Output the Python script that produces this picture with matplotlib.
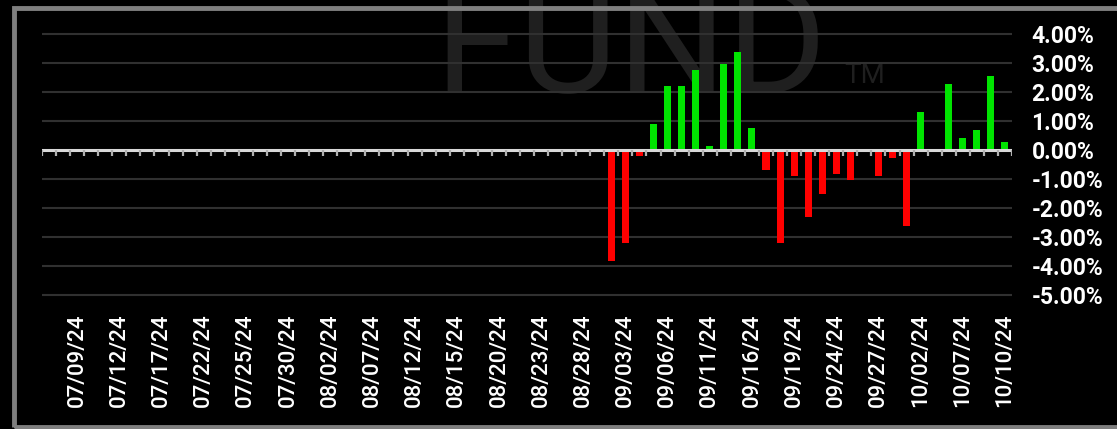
import numpy as np
import pandas as pd
import matplotlib
matplotlib.use('Agg')
from matplotlib import pyplot as plt
from matplotlib.patches import Rectangle

# trading days shown (Labor Day skipped)
dates = pd.bdate_range('2024-07-05', '2024-10-10', freq='C', holidays=['2024-09-02'])
date_labels = [d.strftime('%m/%d/%y') for d in dates]

# daily % change, flat until late August
changes = [0.0] * 40 + [
    -3.81, -3.21, -0.20, 0.88, 2.19, 2.19, 2.74, 0.14, 2.94, 3.36,
    0.76, -0.69, -3.21, -0.88, -2.32, -1.50, -0.82, -1.03, 0.0, -0.88,
    -0.26, -2.60, 1.31, 0.0, 2.27, 0.41, 0.69, 2.53, 0.27,
]
yticks = [4, 3, 2, 1, 0, -1, -2, -3, -4, -5]

plt.rcParams['font.family'] = ['Roboto', 'DejaVu Sans']

fig = plt.figure(figsize=(11.17, 4.29), dpi=100, facecolor='black')

# faint watermark behind the chart
fig.text(434 / 1117, 1 - 93 / 429, 'FUND', fontsize=110, fontweight='normal',
         color='#1f1f1f', ha='left', va='baseline', zorder=-5)
fig.text(844 / 1117, 1 - 83 / 429, 'TM', fontsize=20, color='#1f1f1f',
         ha='left', va='baseline', zorder=-5)

ax = fig.add_axes([42 / 1117, 1 - 298.4 / 429, 970 / 1117, 279.4 / 429])
ax.set_facecolor('none')

x = np.arange(len(changes))
vals = np.array(changes)
colors = ['#00e400' if v >= 0 else '#ff0000' for v in vals]
ax.bar(x, vals, width=0.5, color=colors, zorder=3)

ax.set_xlim(-0.5, len(changes) - 0.5)
ax.set_ylim(-5.1, 4.5)

for y in yticks:
    if y != 0:
        ax.axhline(y, color='#303030', lw=1.5, zorder=1)
ax.axhline(0, color='#d8d8d8', lw=2.2, zorder=4)
ax.vlines(np.arange(len(changes) + 1) - 0.5, -0.2, 0, color='#b0b0b0', lw=1.6, zorder=4)

ax.yaxis.tick_right()
ax.set_yticks(yticks)
ax.set_yticklabels([f'{v:.2f}%' for v in yticks])
ax.tick_params(axis='y', length=0, pad=14, labelsize=16.5, labelcolor='white')
for t in ax.get_yticklabels():
    t.set_fontweight('bold')

lab_idx = x[2::3]
ax.set_xticks(lab_idx)
ax.set_xticklabels([date_labels[i] for i in lab_idx], rotation=90, va='top', ha='center')
ax.tick_params(axis='x', length=0, pad=11, labelsize=16, labelcolor='white')
for t in ax.get_xticklabels():
    t.set_fontweight('medium')

for s in ax.spines.values():
    s.set_visible(False)

# grey panel frame
fig.patches.append(Rectangle((14 / 1117, 2 / 429), 1.2, 1 - 9.5 / 429,
                             transform=fig.transFigure, fill=False,
                             edgecolor='#7f7f7f', lw=3.5, zorder=5))

fig.savefig('out.png', dpi=100, facecolor='black')
